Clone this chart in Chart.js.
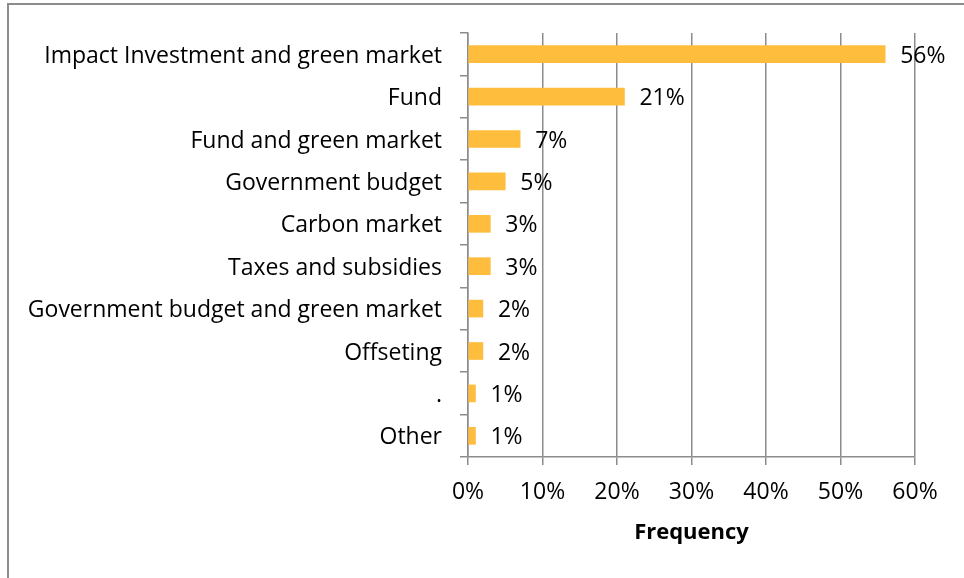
<!DOCTYPE html>
<html>
<head>
<meta charset="utf-8">
<script src="https://cdn.jsdelivr.net/npm/chart.js@4/dist/chart.umd.min.js"></script>
<style>
  html, body { margin: 0; padding: 0; background: #fff; overflow: hidden; }
  .frame {
    position: absolute; left: 7px; top: 3px;
    width: 1000px; height: 700px;
    border: 2px solid #8c8c8c; box-sizing: border-box;
  }
  #chart { position: absolute; left: 0; top: 0; }
</style>
</head>
<body>
<div class="frame"></div>
<canvas id="chart" width="964" height="578"></canvas>
<script>
const categories = [
  'Impact Investment and green market',
  'Fund',
  'Fund and green market',
  'Government budget',
  'Carbon market',
  'Taxes and subsidies',
  'Government budget and green market',
  'Offseting',
  '.',
  'Other'
];
const frequency = [56, 21, 7, 5, 3, 3, 2, 2, 1, 1];
const xTicks = [0, 10, 20, 30, 40, 50, 60];

const FONT = { family: "'Open Sans', sans-serif", size: 23 };
const GRID = '#8c8c8c';

// draws "56%" etc. just past the end of each bar
const barLabels = {
  id: 'barLabels',
  afterDatasetsDraw(chart) {
    const ctx = chart.ctx;
    const meta = chart.getDatasetMeta(0);
    ctx.save();
    ctx.font = FONT.size + 'px ' + FONT.family;
    ctx.fillStyle = '#000';
    ctx.textAlign = 'left';
    ctx.textBaseline = 'middle';
    meta.data.forEach(function(bar, i) {
      ctx.fillText(frequency[i] + '%', bar.x + 15, bar.y + 2);
    });
    ctx.restore();
  }
};

new Chart(document.getElementById('chart'), {
  type: 'bar',
  data: {
    labels: categories,
    datasets: [{
      data: frequency,
      backgroundColor: '#ffbd3e',
      borderWidth: 0,
      barThickness: 17
    }]
  },
  plugins: [barLabels],
  options: {
    indexAxis: 'y',
    responsive: false,
    animation: false,
    devicePixelRatio: 1,
    layout: { padding: { top: 33, right: 49, left: 20, bottom: 0 } },
    plugins: { legend: { display: false }, tooltip: { enabled: false } },
    scales: {
      x: {
        min: 0,
        max: 60,
        afterBuildTicks(scale) {
          scale.ticks = xTicks.map(v => ({ value: v }));
        },
        afterFit(scale) { scale.height = 121; },
        grid: { color: GRID, lineWidth: 1.5, tickLength: 8 },
        border: { color: GRID, width: 1.5 },
        ticks: {
          color: '#000',
          font: FONT,
          padding: 14,
          maxRotation: 0,
          callback: v => v + '%'
        },
        title: {
          display: true,
          text: 'Frequency',
          color: '#000',
          font: { family: FONT.family, size: 22, weight: 'bold' },
          padding: { top: 8, bottom: 32 }
        }
      },
      y: {
        afterFit(scale) { scale.width = 448; },
        grid: {
          offset: true,
          drawOnChartArea: false,
          color: GRID,
          lineWidth: 1.5,
          tickLength: 8
        },
        border: { color: GRID, width: 1.5 },
        ticks: { color: '#000', font: FONT, padding: 18, autoSkip: false, labelOffset: 2 }
      }
    }
  }
});
</script>
</body>
</html>
